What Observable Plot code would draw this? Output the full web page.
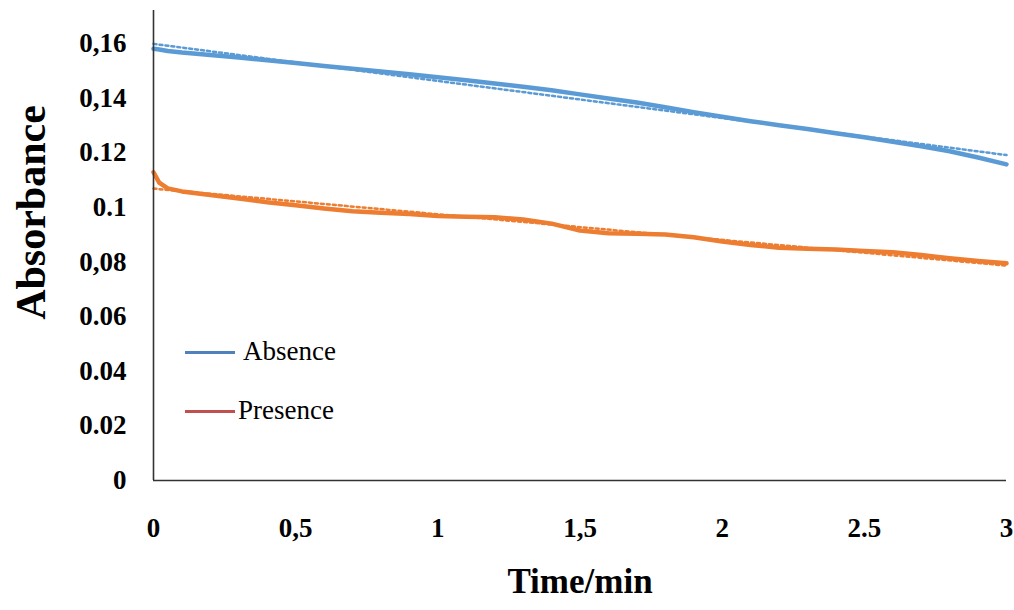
<!DOCTYPE html>
<html>
<head>
<meta charset="utf-8">
<script src="https://cdn.jsdelivr.net/npm/d3@7"></script>
<script src="https://cdn.jsdelivr.net/npm/@observablehq/plot@0.6"></script>
<style>
  html, body { margin: 0; padding: 0; background: #fff; }
  #wrap { position: relative; width: 1014px; height: 610px; }
  #wrap svg text { font-family: "Liberation Serif", "Times New Roman", serif; }
  .leg { position: absolute; font-family: "Liberation Serif", "Times New Roman", serif; font-size: 27px; color: #000; line-height: 1; }
  .leg .sw { position: absolute; height: 3px; width: 50px; }
</style>
</head>
<body>
<div id="wrap"></div>
<script>
// ---- data ----
const time = [0, 0.02, 0.05, 0.1, 0.2, 0.3, 0.4, 0.5, 0.6, 0.7, 0.8, 0.9, 1.0, 1.1, 1.2, 1.3, 1.4, 1.5,
              1.6, 1.7, 1.8, 1.9, 2.0, 2.1, 2.2, 2.3, 2.4, 2.5, 2.6, 2.7, 2.8, 2.9, 3.0];
const absence = [0.1580, 0.1577, 0.1572, 0.1566, 0.1557, 0.1548, 0.1538, 0.1528, 0.1517, 0.1507, 0.1497, 0.1487,
                 0.1476, 0.1465, 0.1453, 0.1441, 0.1428, 0.1413, 0.1398, 0.1383, 0.1366, 0.1348, 0.1331,
                 0.1315, 0.1300, 0.1286, 0.1271, 0.1256, 0.1240, 0.1223, 0.1205, 0.1182, 0.1157];
const presence = [0.1128, 0.1090, 0.1069, 0.1058, 0.1045, 0.1032, 0.1018, 0.1007, 0.0995, 0.0985, 0.0980, 0.0975,
                  0.0968, 0.0965, 0.0963, 0.0955, 0.0940, 0.0915, 0.0905, 0.0903, 0.0900, 0.0890, 0.0875,
                  0.0862, 0.0852, 0.0848, 0.0845, 0.0840, 0.0835, 0.0825, 0.0813, 0.0803, 0.0795];
const seriesNames = ["Absence", "Presence"];
const seriesColors = ["#5B9BD5", "#ED7D31"];
const legendColors = ["#4F81BD", "#C0504D"];
const xTicks = [0, 0.5, 1, 1.5, 2, 2.5, 3];
const xTickLabels = ["0", "0,5", "1", "1,5", "2", "2.5", "3"];
const yTicks = [0, 0.02, 0.04, 0.06, 0.08, 0.1, 0.12, 0.14, 0.16];
const yTickLabels = ["0", "0.02", "0.04", "0.06", "0,08", "0.1", "0.12", "0,14", "0,16"];

const rows = [];
time.forEach((t, i) => {
  rows.push({t, v: absence[i], s: seriesNames[0]});
});
time.forEach((t, i) => {
  rows.push({t, v: presence[i], s: seriesNames[1]});
});

const colorOf = s => seriesColors[seriesNames.indexOf(s)];
const serif = "Liberation Serif, Times New Roman, serif";

const chart = Plot.plot({
  width: 1014,
  height: 610,
  marginLeft: 153,
  marginRight: 8,
  marginTop: 10,
  marginBottom: 130,
  x: {domain: [0, 3]},
  y: {domain: [0, 0.172]},
  style: {fontFamily: serif, background: "#fff", color: "#000"},
  marks: [
    Plot.axisX({ticks: xTicks, tickFormat: d => xTickLabels[xTicks.indexOf(d)], tickSize: 0, tickPadding: 37,
                fontSize: 27, fontWeight: "bold", label: null}),
    Plot.axisY({ticks: yTicks, tickFormat: d => yTickLabels[yTicks.indexOf(d)], tickSize: 0, tickPadding: 27,
                fontSize: 27, fontWeight: "bold", label: null}),
    Plot.text(["Time/min"], {frameAnchor: "bottom", dy: 112, fontSize: 35, fontWeight: "bold"}),
    Plot.text(["Absorbance"], {frameAnchor: "left", textAnchor: "middle", dx: -122, dy: -33, rotate: -90,
                               fontSize: 42, fontWeight: "bold"}),
    Plot.line(rows, {x: "t", y: "v", z: "s", stroke: d => colorOf(d.s), strokeWidth: 4.5, curve: "linear"}),
    Plot.linearRegressionY(rows, {x: "t", y: "v", z: "s", stroke: d => colorOf(d.s), ci: 0,
                                  strokeWidth: 2.5, strokeDasharray: "3,3"}),
    Plot.ruleX([0], {stroke: "#333", strokeWidth: 1.6}),
    Plot.ruleY([0], {stroke: "#333", strokeWidth: 1.6})
  ]
});

const wrap = document.getElementById("wrap");
wrap.appendChild(chart);

// legend (HTML overlay)
const legendPos = [{top: 338, textLeft: 243}, {top: 397, textLeft: 238}];
seriesNames.forEach((name, i) => {
  const sw = document.createElement("div");
  sw.className = "leg";
  sw.style.left = "185px";
  sw.style.top = (legendPos[i].top + 13) + "px";
  const line = document.createElement("div");
  line.className = "sw";
  line.style.background = legendColors[i];
  sw.appendChild(line);
  wrap.appendChild(sw);
  const tx = document.createElement("div");
  tx.className = "leg";
  tx.style.left = legendPos[i].textLeft + "px";
  tx.style.top = legendPos[i].top + "px";
  tx.textContent = name;
  wrap.appendChild(tx);
});
</script>
</body>
</html>
